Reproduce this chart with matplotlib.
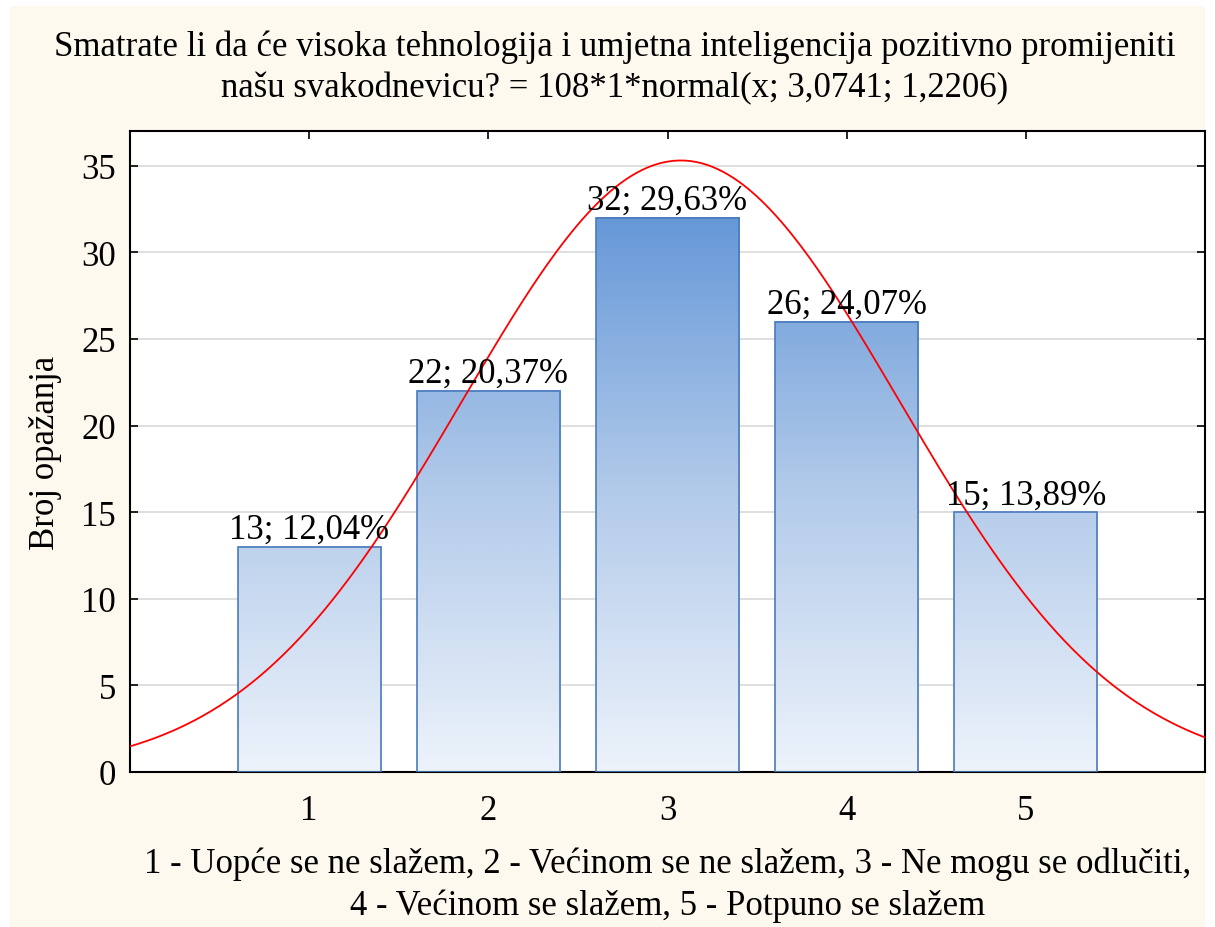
import numpy as np
import matplotlib.pyplot as plt
from matplotlib.colors import LinearSegmentedColormap
from matplotlib.patches import Rectangle

plt.rcParams['font.family'] = ['Liberation Serif', 'DejaVu Serif']

categories = [1, 2, 3, 4, 5]
counts = [13, 22, 32, 26, 15]
percents = ['12,04%', '20,37%', '29,63%', '24,07%', '13,89%']
n_total = 108
mu, sigma = 3.0741, 1.2206

title = ("Smatrate li da će visoka tehnologija i umjetna inteligencija pozitivno promijeniti\n"
         "našu svakodnevicu? = 108*1*normal(x; 3,0741; 1,2206)")
footer = ("1 - Uopće se ne slažem, 2 - Većinom se ne slažem, 3 - Ne mogu se odlučiti,\n"
          "4 - Većinom se slažem, 5 - Potpuno se slažem")

cream = '#fdf9ee'
fig = plt.figure(figsize=(12.15, 9.28), dpi=100, facecolor='white')
fig.patches.append(Rectangle((10 / 1215, 0), 1195 / 1215, 921 / 928,
                             transform=fig.transFigure, facecolor=cream,
                             edgecolor='none', zorder=-10))
ax = fig.add_axes([130 / 1215, 1 - 773 / 928, 1075 / 1215, 641 / 928])
ax.set_facecolor('white')

cmap = LinearSegmentedColormap.from_list('bar', ['#edf3fb', '#b3cbea', '#6698d8'])
width = 0.8
top_val = max(counts)
for x, c, p in zip(categories, counts, percents):
    x0 = x - width / 2
    g = np.linspace(0, c / top_val, 256).reshape(-1, 1)
    ax.imshow(g, extent=(x0, x0 + width, 0, c), origin='lower', aspect='auto',
              cmap=cmap, vmin=0, vmax=1, zorder=2)
    ax.add_patch(Rectangle((x0, 0), width, c, fill=False,
                           edgecolor='#4a7bbd', linewidth=1.2, zorder=3))
    ax.text(x, c + 0.05, f'{c}; {p}', ha='center', va='bottom', fontsize=25, zorder=5)

xs = np.linspace(0, 6, 400)
ys = n_total * np.exp(-0.5 * ((xs - mu) / sigma) ** 2) / (sigma * np.sqrt(2 * np.pi))
ax.plot(xs, ys, color='#ff0000', linewidth=1.3, zorder=4)

ax.set_xlim(0, 6)
ax.set_ylim(0, 37)
ax.set_xticks(categories)
ax.set_yticks(range(0, 36, 5))
ax.yaxis.grid(True, color='#d9d9d9', linewidth=1.2, zorder=0)
ax.set_axisbelow(True)
ax.tick_params(direction='in', length=6, width=1.2, labelsize=25, pad=10,
               top=True, right=True, colors='black')
ax.tick_params(axis='x', pad=16)
for s in ax.spines.values():
    s.set_linewidth(1.5)

ax.set_ylabel('Broj opažanja', fontsize=25, labelpad=14)
fig.text(0.5 * (57 + 1172) / 1215, 1 - 68 / 928, title, ha='center', va='center',
         fontsize=25, linespacing=1.3)
fig.text(668 / 1215, 1 - 885 / 928, footer, ha='center', va='center',
         fontsize=25, linespacing=1.35)

fig.savefig('out.png', dpi=100, facecolor=fig.get_facecolor())
